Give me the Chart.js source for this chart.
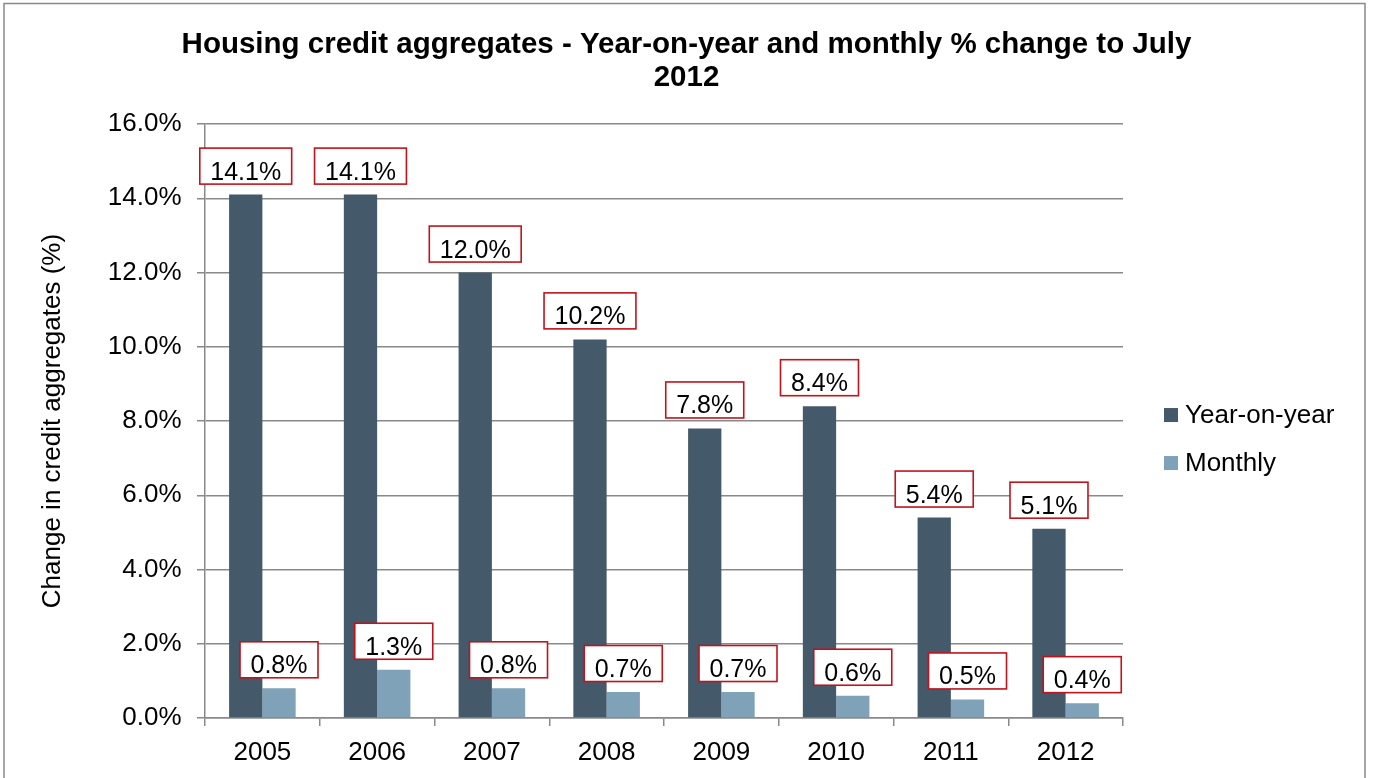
<!DOCTYPE html>
<html>
<head>
<meta charset="utf-8">
<title>Housing credit aggregates</title>
<script src="https://cdn.jsdelivr.net/npm/chart.js@4"></script>
<style>
  html, body { margin: 0; padding: 0; background: #fff; }
  #wrap { width: 1373px; height: 778px; position: relative; }
</style>
</head>
<body>
<div id="wrap"><canvas id="chart"></canvas></div>
<script>
const years = ['2005', '2006', '2007', '2008', '2009', '2010', '2011', '2012'];
const yearOnYear = [14.1, 14.1, 12.0, 10.2, 7.8, 8.4, 5.4, 5.1];
const monthly = [0.8, 1.3, 0.8, 0.7, 0.7, 0.6, 0.5, 0.4];
const seriesNames = ['Year-on-year', 'Monthly'];
const seriesColors = ['#44596A', '#7FA2B9'];

const FONT = '"Liberation Sans", Arial, sans-serif';
const GRID = '#898989';

// outer frame around the whole chart
const framePlugin = {
  id: 'frame',
  beforeDraw(chart) {
    const ctx = chart.ctx;
    ctx.save();
    ctx.strokeStyle = GRID;
    ctx.lineWidth = 1.5;
    ctx.strokeRect(4, 3.5, 1361, 800);
    ctx.restore();
  }
};

// boxed value labels above every bar
const valueBoxes = {
  id: 'valueBoxes',
  afterDatasetsDraw(chart) {
    const ctx = chart.ctx;
    ctx.save();
    ctx.font = '25px ' + FONT;
    chart.data.datasets.forEach((ds, i) => {
      const meta = chart.getDatasetMeta(i);
      meta.data.forEach((bar, j) => {
        const text = ds.data[j].toFixed(1) + '%';
        const w = ctx.measureText(text).width + 21;
        const h = 36;
        const bottom = bar.y - 10.5;
        const left = bar.x - w / 2;
        ctx.fillStyle = '#fff';
        ctx.fillRect(left, bottom - h, w, h);
        ctx.strokeStyle = '#C0141C';
        ctx.lineWidth = 1.6;
        ctx.strokeRect(left, bottom - h, w, h);
        ctx.fillStyle = '#000';
        ctx.textAlign = 'center';
        ctx.textBaseline = 'alphabetic';
        ctx.fillText(text, bar.x, bottom - 4.5);
      });
    });
    ctx.restore();
  }
};

// legend drawn in the space kept free on the right
const sideLegend = {
  id: 'sideLegend',
  afterDraw(chart) {
    const ctx = chart.ctx;
    const area = chart.chartArea;
    const x = area.right + 41;
    const mid = (area.top + area.bottom) / 2;
    ctx.save();
    ctx.font = '26px ' + FONT;
    ctx.textAlign = 'left';
    ctx.textBaseline = 'alphabetic';
    chart.data.datasets.forEach((ds, i) => {
      const base = mid + 2 + i * 48;
      ctx.fillStyle = ds.backgroundColor;
      ctx.fillRect(x, base - 15, 14, 14);
      ctx.fillStyle = '#000';
      ctx.fillText(ds.label, x + 21, base);
    });
    ctx.restore();
  }
};

new Chart(document.getElementById('chart'), {
  type: 'bar',
  data: {
    labels: years,
    datasets: [
      { label: seriesNames[0], data: yearOnYear, backgroundColor: seriesColors[0] },
      { label: seriesNames[1], data: monthly, backgroundColor: seriesColors[1] }
    ]
  },
  options: {
    responsive: true,
    maintainAspectRatio: false,
    animation: false,
    layout: { padding: 0 },
    datasets: {
      bar: { categoryPercentage: 0.58, barPercentage: 1.0 }
    },
    plugins: {
      legend: { display: false },
      tooltip: { enabled: false },
      title: {
        display: true,
        text: ['Housing credit aggregates - Year-on-year and monthly % change to July', '2012'],
        color: '#000',
        font: { family: FONT, size: 29.5, weight: 'bold', lineHeight: 1.12 },
        padding: { top: 28.5, bottom: 29.5 }
      }
    },
    scales: {
      x: {
        grid: {
          offset: true,
          drawOnChartArea: false,
          drawTicks: true,
          tickLength: 8,
          color: GRID,
          lineWidth: 1.5
        },
        border: { color: GRID, width: 1.5 },
        ticks: { color: '#000', font: { family: FONT, size: 26 }, padding: 11 },
        afterFit(scale) { scale.height = 60; }
      },
      y: {
        min: 0,
        max: 16,
        ticks: {
          stepSize: 2,
          color: '#000',
          font: { family: FONT, size: 26 },
          padding: 15.5,
          callback: v => v.toFixed(1) + '%'
        },
        grid: { color: GRID, lineWidth: 1.5, tickLength: 8 },
        border: { color: GRID, width: 1.5 },
        title: {
          display: true,
          text: 'Change in credit aggregates (%)',
          color: '#000',
          font: { family: FONT, size: 26 },
          padding: { top: 37, bottom: 0 }
        },
        afterFit(scale) { scale.width = 205; }
      },
      legendSpace: {
        type: 'linear',
        position: 'right',
        display: true,
        grid: { display: false },
        border: { display: false },
        ticks: { display: false },
        afterFit(scale) { scale.width = 250; }
      }
    }
  },
  plugins: [framePlugin, valueBoxes, sideLegend]
});
</script>
</body>
</html>
